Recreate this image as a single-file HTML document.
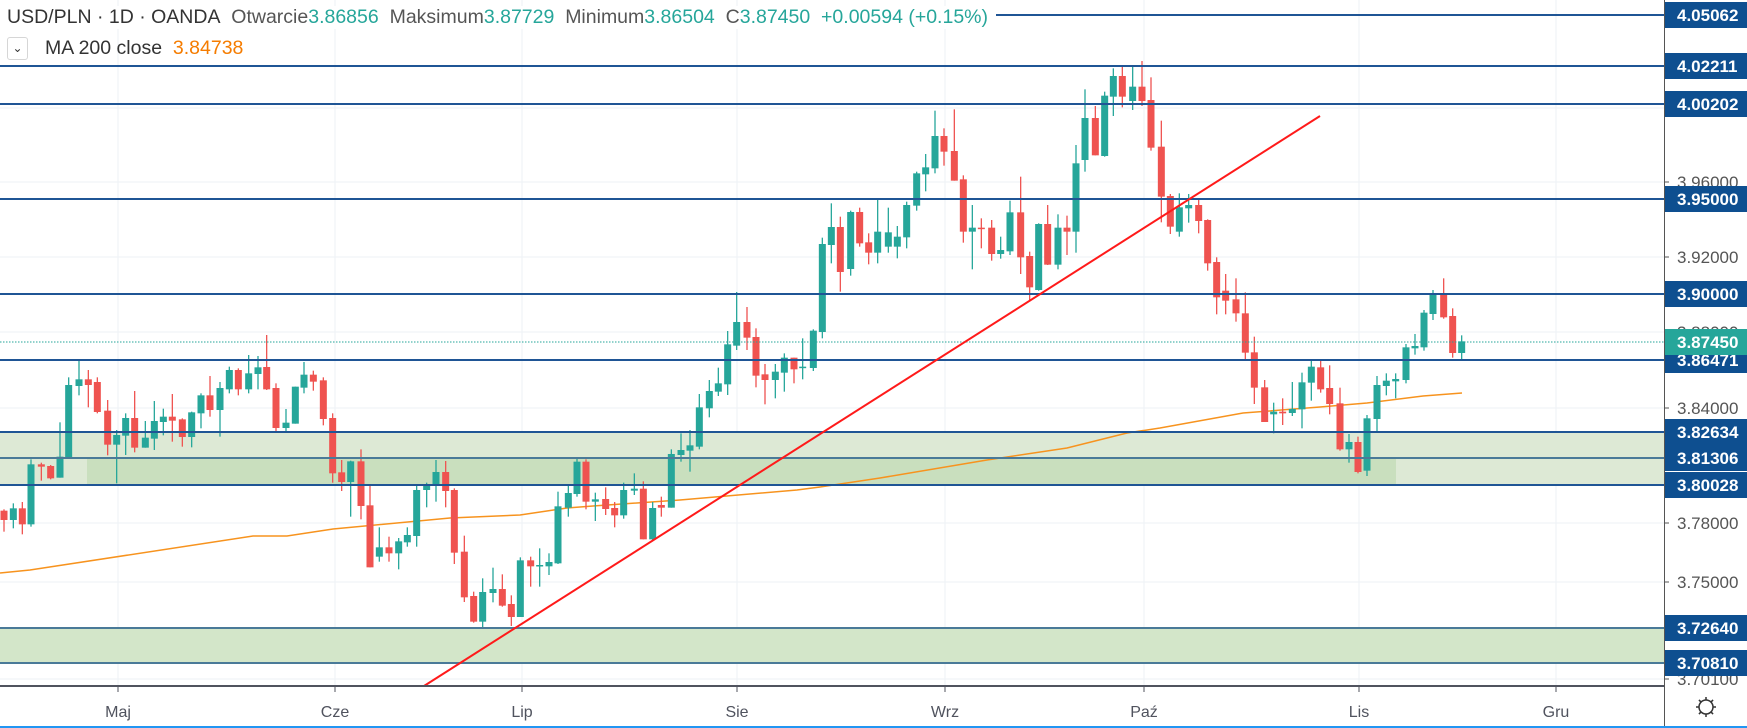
<!DOCTYPE html>
<html><head><meta charset="utf-8">
<style>
html,body{margin:0;padding:0;background:#fff;}
body{width:1747px;height:728px;overflow:hidden;position:relative;font-family:"Liberation Sans",sans-serif;}
svg{position:absolute;left:0;top:0;}
.hdr{position:absolute;left:7px;top:6px;font-size:19.5px;color:#333;white-space:nowrap;background:#fff;padding-right:4px;}
.hdr .t{color:#26a69a}
.hdr2{position:absolute;left:7px;top:37px;font-size:19.5px;color:#333;white-space:nowrap;}
.dd{display:inline-block;width:19px;height:21px;border:1px solid #d6d6d6;border-radius:3px;vertical-align:middle;text-align:center;font-size:12px;line-height:20px;margin-right:17px;color:#333}
</style></head><body>
<svg id="s" width="1747" height="728" xmlns="http://www.w3.org/2000/svg"></svg>
<div class="hdr">USD/PLN · 1D · OANDA&nbsp;&nbsp;<span style="color:#555">Otwarcie</span><span class="t">3.86856</span>&nbsp;&nbsp;<span style="color:#555">Maksimum</span><span class="t">3.87729</span>&nbsp;&nbsp;<span style="color:#555">Minimum</span><span class="t">3.86504</span>&nbsp;&nbsp;<span style="color:#555">C</span><span class="t">3.87450&nbsp;&nbsp;+0.00594 (+0.15%)</span></div>
<div class="hdr2"><span class="dd">&#8964;</span>MA 200 close&nbsp;&nbsp;<span style="color:#f57c00">3.84738</span></div>
<script>
const S=document.getElementById('s');let h='';
[108,182,257,332,408,523,582,679].forEach(y=>h+=`<line x1="0" x2="1664" y1="${y}" y2="${y}" stroke="#eef2f6" stroke-width="1"/>`);
const months=[[118,'Maj'],[335,'Cze'],[522,'Lip'],[737,'Sie'],[945,'Wrz'],[1144,'Paź'],[1359,'Lis'],[1556,'Gru']];
months.forEach(m=>h+=`<line x1="${m[0]}" x2="${m[0]}" y1="0" y2="686" stroke="#eef2f6" stroke-width="1"/>`);
h+=`<rect x="0" y="432" width="1664" height="53" fill="#dde9d5"/>`;
h+=`<rect x="87" y="458" width="1309" height="27" fill="#c9dfbe"/>`;
h+=`<rect x="0" y="628" width="1664" height="35" fill="#d3e6c9"/>`;
const ma=[[0,573],[30,570],[253,536],[287,536],[333,529],[450,518],[520,515],[567,508],[593,506],[680,500],[797,490],[820,487],[880,478],[987,460],[1067,448],[1127,433],[1160,428],[1243,413],[1320,407],[1367,403],[1423,396],[1462,393]];
h+=`<polyline points="${ma.map(p=>p.join(',')).join(' ')}" fill="none" stroke="#f7931e" stroke-width="1.5"/>`;
const G=[[0,290,[[12,662,690,'r',658,725],[40,655,690,'g',640,715],[67,655,703,'r',636,733],[93,523,703,'g',508,710],[124,523,530,'r',518,572],[152,528,565,'r',525,568],[180,500,563,'g',397,563],[206,285,505,'g',262,505],[237,268,288,'g',210,316],[265,268,285,'r',240,352],[292,276,366,'r',262,370],[323,362,464,'r',330,496],[350,435,464,'g',420,580],[377,384,437,'g',370,495],[404,384,473,'r',303,487],[436,443,473,'g',393,473],[463,393,446,'g',333,480],[490,380,396,'g',356,436],[517,380,392,'r',312,455],[547,388,441,'r',385,470],[575,367,441,'g',365,472],[603,316,370,'g',310,415],[630,316,360,'r',258,380],[660,294,360,'g',276,440],[688,240,298,'g',230,310],[715,240,298,'r',235,316],[746,250,298,'g',195,310],[774,232,252,'g',198,298],[800,231,298,'r',135,300],[828,294,414,'r',280,428],[858,398,414,'g',357,424],[886,290,401,'g',290,401],[912,254,293,'g',216,310],[940,254,275,'r',242,302],[970,271,387,'r',262,406],[998,384,550,'r',370,578],[1025,547,576,'r',510,603],[1052,514,576,'g',512,680],[1083,514,648,'r',478,688],[1110,646,832,'r',585,832],[1138,772,800,'g',712,815],[1167,772,790,'r',740,815],[1196,754,790,'g',744,838],[1222,735,757,'g',712,770],[1250,600,738,'g',583,770],[1280,583,600,'g',578,652],[1308,546,586,'g',510,635],[1337,546,603,'r',513,652]]],
[440,440,[[43,150,338,'r',145,372],[73,335,472,'r',287,486],[101,468,545,'r',455,548],[128,456,545,'g',415,562],[159,447,459,'g',383,487],[187,447,497,'r',403,500],[214,492,531,'r',466,558],[241,361,531,'g',352,531],[272,361,379,'r',350,440],[299,375,379,'g',325,440],[327,366,379,'g',340,405],[354,199,370,'g',155,372],[385,159,203,'g',132,230],[411,65,162,'g',55,170],[438,65,185,'r',58,208],[466,178,185,'g',158,243],[497,177,207,'r',142,225],[524,204,226,'r',186,262],[551,150,226,'g',128,236],[583,146,152,'g',100,165],[610,146,298,'r',124,298],[638,204,298,'g',186,300],[664,195,203,'r',170,230],[694,42,203,'g',28,203]]],
[430,90,[[753,1080,1095,'g',1030,1115],[780,1066,1082,'g',1020,1145],[808,952,1070,'g',912,1078],[838,903,955,'g',870,982],[865,880,905,'g',833,918],[893,763,883,'g',723,915],[920,696,767,'g',606,780],[951,696,743,'r',651,780],[978,741,857,'r',715,892],[1005,853,870,'r',822,943],[1036,845,870,'g',822,925],[1063,803,848,'g',790,905],[1092,803,838,'r',803,880],[1118,830,834,'g',745,868],[1150,722,834,'g',718,843],[1177,462,726,'g',443,745],[1204,411,465,'g',340,520],[1231,411,546,'r',380,605],[1262,366,537,'g',362,557],[1289,366,460,'r',353,470],[1316,457,488,'r',430,523],[1343,425,488,'g',330,520]]],
[860,50,[[85,547,590,'g',473,608],[112,560,590,'g',528,625],[140,465,562,'g',455,595],[170,370,467,'g',365,482],[197,352,373,'g',312,424],[225,258,355,'g',182,370],[252,258,305,'r',235,347],[283,303,392,'r',178,392],[310,388,545,'r',376,578],[337,533,545,'g',465,658],[364,533,537,'r',505,595],[395,533,612,'r',510,632],[422,600,612,'g',560,626],[450,487,604,'g',452,615],[482,487,622,'r',380,672],[509,618,712,'r',605,752],[536,522,720,'g',520,722],[563,522,644,'r',465,645],[594,533,644,'g',493,658],[621,533,545,'r',497,615],[648,340,545,'g',285,608],[675,204,330,'g',118,365],[706,204,316,'r',168,316],[734,137,318,'g',125,320],[760,78,140,'g',55,198],[787,78,140,'r',47,172],[818,110,153,'g',47,180],[846,110,153,'r',33,168],[873,150,293,'r',82,302],[904,290,440,'r',212,517],[931,438,530,'r',432,552],[958,472,545,'g',430,560],[986,465,475,'g',432,518],[1016,465,513,'r',447,550],[1043,510,640,'r',508,662],[1070,636,742,'r',622,793],[1097,722,752,'r',672,793],[1128,748,790,'r',685,815],[1156,790,908,'r',727,930],[1183,907,1013,'r',860,1062],[1214,1012,1116,'r',990,1116],[1241,1085,1093,'g',1058,1150],[1268,1085,1090,'r',1045,1125],[1297,1077,1089,'g',996,1098],[1326,997,1078,'g',968,1135],[1354,950,998,'g',930,1052]]],
[1300,260,[[62,322,388,'r',298,398],[89,384,432,'r',316,463],[120,430,568,'r',383,572],[147,546,568,'g',522,608],[174,546,636,'r',530,640],[201,475,632,'g',465,648],[231,375,477,'g',348,514],[259,362,378,'g',340,406],[287,357,364,'g',340,415],[318,262,360,'g',252,370],[345,258,265,'g',222,284],[372,158,262,'g',150,272],[399,104,162,'g',90,180],[431,104,172,'r',55,176],[458,168,279,'r',145,293],[485,244,279,'g',226,297]]]];
G.forEach(g=>{const ox=g[0],oy=g[1];g[2].forEach(c=>{const x=ox+c[0]/3,t=oy+c[1]/3,b=oy+c[2]/3,wt=oy+c[4]/3,wb=oy+c[5]/3;const col=c[3]=='g'?'#26a69a':'#ef5350';
h+=`<line x1="${x}" x2="${x}" y1="${wt}" y2="${wb}" stroke="${col}" stroke-width="1.3"/>`;
h+=`<rect x="${x-3.5}" y="${t}" width="7" height="${Math.max(b-t,1.5)}" fill="${col}"/>`;});});
const lv=[[15,'4.05062',996],[66,'4.02211',0],[104,'4.00202',0],[199,'3.95000',0],[294,'3.90000',0],[360,'3.86471',0],[432,'3.82634',0],[458,'3.81306',0],[485,'3.80028',0],[628,'3.72640',0],[663,'3.70810',0]];
lv.forEach(l=>{const c=(l[0]==458||l[0]>600)?'#4a7a98':'#1f5595';h+=`<line x1="${l[2]}" x2="1664" y1="${l[0]}" y2="${l[0]}" stroke="${c}" stroke-width="2"/>`;});
h+=`<line x1="0" x2="1664" y1="342" y2="342" stroke="#26a69a" stroke-width="1" stroke-dasharray="1.5,1.5"/>`;
h+=`<line x1="424" y1="686" x2="1320" y2="116" stroke="#ff1a1a" stroke-width="2"/>`;
h+=`<rect x="1665" y="0" width="82" height="686" fill="#fff"/>`;
[[182,'3.96000'],[257,'3.92000'],[332,'3.88000'],[408,'3.84000'],[523,'3.78000'],[582,'3.75000'],[679,'3.70100']].forEach(t=>{h+=`<line x1="1664" x2="1669" y1="${t[0]}" y2="${t[0]}" stroke="#555"/><text x="1677" y="${t[0]+6}" font-size="17" fill="#555" font-family="Liberation Sans,sans-serif">${t[1]}</text>`;});
lv.forEach(l=>{h+=`<rect x="1664" y="${l[0]-13}" width="83" height="26" fill="#0e4f90"/><text x="1677" y="${l[0]+6}" font-size="17" font-weight="bold" fill="#fff" font-family="Liberation Sans,sans-serif">${l[1]}</text>`;});
h+=`<rect x="1664" y="329" width="83" height="26" fill="#26a69a"/><text x="1677" y="348" font-size="17" font-weight="bold" fill="#fff" font-family="Liberation Sans,sans-serif">3.87450</text>`;
h+=`<rect x="1664" y="0" width="83" height="2" fill="#fff"/>`;
h+=`<rect x="1665" y="687" width="82" height="40" fill="#fff"/>`;
h+=`<line x1="1664.5" x2="1664.5" y1="0" y2="728" stroke="#555" stroke-width="1"/>`;
h+=`<rect x="0" y="687" width="1664" height="40" fill="#fff"/>`;
h+=`<line x1="0" x2="1664" y1="686" y2="686" stroke="#50535e" stroke-width="2"/>`;
months.forEach(m=>{h+=`<line x1="${m[0]}" x2="${m[0]}" y1="686" y2="692" stroke="#50535e"/><text x="${m[0]}" y="717" font-size="16" fill="#50535e" text-anchor="middle" font-family="Liberation Sans,sans-serif">${m[1]}</text>`;});
h+=`<line x1="0" x2="1747" y1="727" y2="727" stroke="#2196f3" stroke-width="2"/>`;
h+=`<circle cx="1706" cy="707" r="7" fill="none" stroke="#333" stroke-width="1.5"/>`;
for(let i=0;i<8;i++){const a=i*Math.PI/4;h+=`<line x1="${1706+7*Math.cos(a)}" y1="${707+7*Math.sin(a)}" x2="${1706+10*Math.cos(a)}" y2="${707+10*Math.sin(a)}" stroke="#333" stroke-width="1.5"/>`;}
S.innerHTML=h;
</script>
</body></html>
